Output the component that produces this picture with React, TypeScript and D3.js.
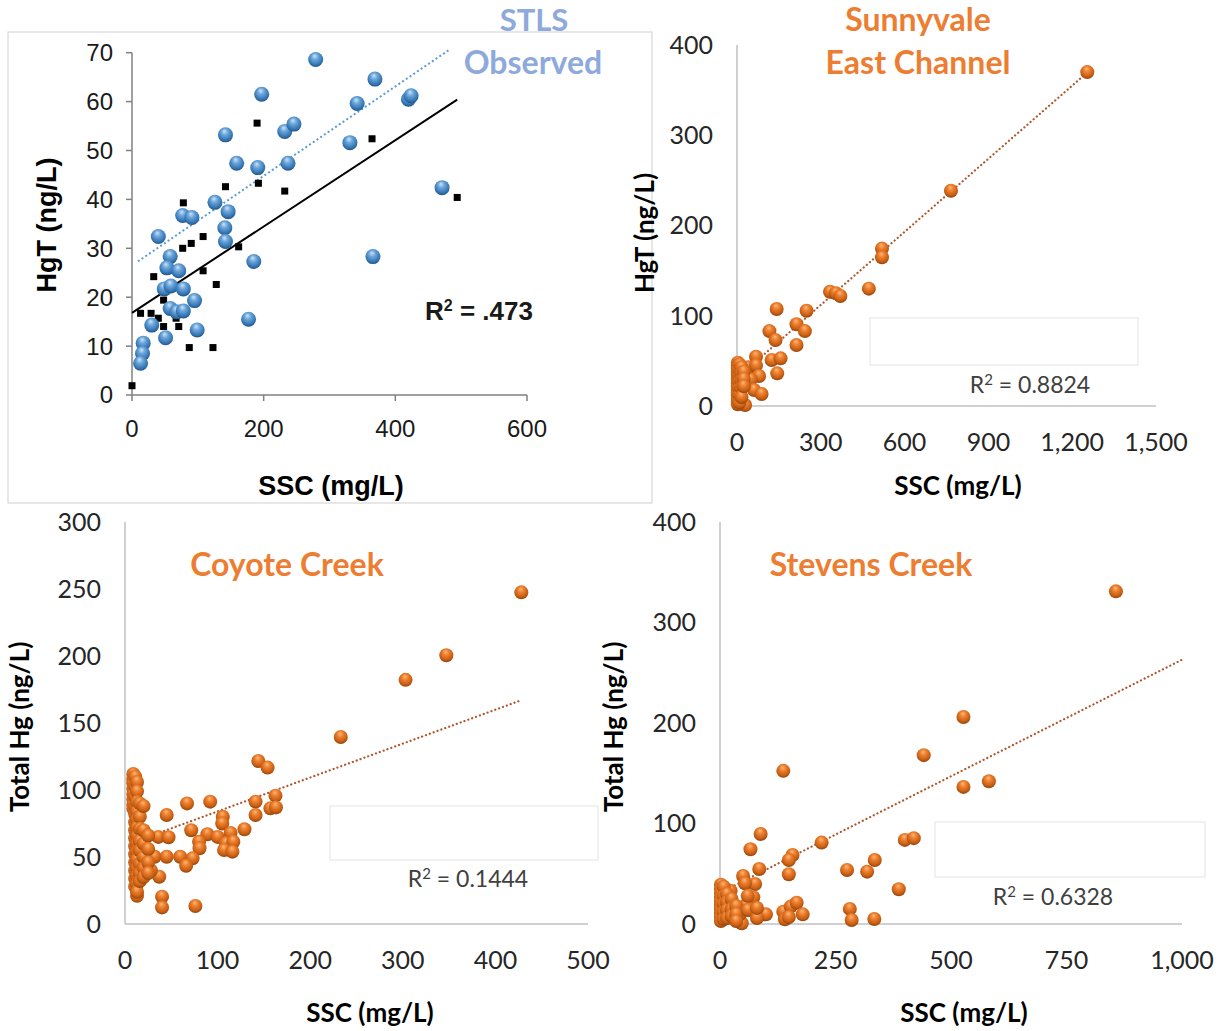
import React from 'react';
import * as d3 from 'd3';

// ---------- Panel 1: STLS observed ----------
const p1TicksX = [0, 200, 400, 600];
const p1TicksY = [0, 10, 20, 30, 40, 50, 60, 70];
// blue spheres [SSC, HgT]
const p1Circles: [number, number][] = [
  [279, 68.6], [369, 64.6], [342, 59.6], [420, 60.5], [424, 61.2], [197, 61.5],
  [142, 53.2], [159, 47.4], [191, 46.5], [232, 53.9], [246, 55.4], [237, 47.4],
  [331, 51.6], [471, 42.4], [126, 39.4], [146, 37.5], [141, 34.2], [142, 31.4],
  [77, 36.7], [91, 36.3], [40, 32.4], [58, 28.3], [53, 26], [71, 25.4], [185, 27.3],
  [366, 28.3], [49, 21.7], [59, 22.3], [78, 21.7], [95, 19.3], [58, 17.7], [68, 17],
  [78, 17.2], [177, 15.5], [30, 14.3], [99, 13.3], [51, 11.7], [17, 10.6], [16, 8.5], [13, 6.5],
];
// black squares [SSC, HgT]
const p1Squares: [number, number][] = [
  [190, 55.6], [364.6, 52.4], [142, 42.6], [192, 43.3], [232, 41.7], [494, 40.4],
  [78, 39.3], [108, 32.4], [90, 31], [77, 30], [162, 30.3], [108, 25.4], [33, 24.2],
  [128, 22.6], [48, 19.4], [13, 16.7], [29, 16.7], [40, 15.7], [67, 15.7], [48, 14],
  [71, 14], [87, 9.7], [123, 9.7], [0, 1.9],
];
const p1Fit = { x0: 0, x1: 494, a: 16.8, b: 0.0883 };
const p1ObsFit = { x0: 9, x1: 482, a: 26.5, b: 0.0915 };

// ---------- Panel 2: Sunnyvale East Channel ----------
const p2TicksX = [0, 300, 600, 900, 1200, 1500];
const p2TicksY = [0, 100, 200, 300, 400];
const p2Points: [number, number][] = [
  [1254, 370], [766, 238.5], [519, 174.4], [519, 164.8], [472, 130], [333, 126.6],
  [354, 125], [370, 121.9], [142, 107.5], [249, 105.6], [116, 83], [213, 90.5],
  [243, 83], [138, 73], [213, 67.6], [68, 54.6], [124, 51], [156, 52.8], [144, 36.2],
  [40, 42.9], [68, 45], [79, 33.2], [49, 29.5], [61, 17.7], [88, 13.3], [29, 1.1],
  [3, 48], [3, 45], [3, 42], [3, 38], [3, 35], [3, 31], [3, 28], [3, 25], [3, 22],
  [3, 18], [3, 15], [3, 12], [3, 8], [3, 5], [3, 2], [9, 46], [9, 40], [9, 33],
  [9, 27], [9, 20], [9, 12], [9, 4], [16, 43], [16, 36], [16, 28], [16, 20], [16, 10],
  [24, 38], [24, 30], [24, 22],
];
const p2Fit = { x0: 0, x1: 1254, a: 31, b: 0.27 };

// ---------- Panel 3: Coyote Creek ----------
const p3TicksX = [0, 100, 200, 300, 400, 500];
const p3TicksY = [0, 50, 100, 150, 200, 250, 300];
const p3Points: [number, number][] = [
  [428, 247.5], [347, 200.6], [303, 182.2], [233, 139.6], [144, 121.6], [154, 116.7],
  [67, 90], [92, 91.3], [45, 81.3], [141, 91.3], [141, 81.3], [162.5, 95.8], [157, 86.3],
  [163, 87], [105.6, 80], [105, 75], [129, 70.7], [71.5, 70], [114, 68], [89, 67],
  [36, 65], [47, 64.7], [100, 65], [80, 61.4], [109, 60.2], [117, 61.4], [80.5, 56.5],
  [107, 55.2], [116, 54], [32, 50.2], [45, 50.2], [59.6, 50.2], [73, 49], [66, 43.5],
  [37, 35.3], [28, 40], [40, 20.4], [40, 12.4], [76, 13.4], [13, 21],
  [9, 112], [9, 108], [9, 105], [9, 101], [9, 97], [9, 93], [9, 89], [9, 86],
  [11, 110], [11, 103], [11, 95], [11, 88], [11, 82], [11, 76], [11, 70], [11, 64],
  [11, 58], [11, 52], [11, 46], [11, 40], [11, 34], [11, 28],
  [13, 106], [13, 99], [13, 91], [13, 84], [13, 78], [13, 72], [13, 66], [13, 60],
  [13, 54], [13, 48], [13, 42], [13, 36], [13, 30], [13, 24],
  [16, 90], [16, 80], [16, 71], [16, 62], [16, 55], [16, 45], [16, 38], [16, 32],
  [20, 88], [20, 70], [20, 60], [20, 50], [20, 42], [20, 35],
  [25, 66], [25, 56], [25, 46], [25, 38],
];
const p3Fit = { x0: 9, x1: 426, a: 58.7, b: 0.253 };

// ---------- Panel 4: Stevens Creek ----------
const p4TicksX = [0, 250, 500, 750, 1000];
const p4TicksY = [0, 100, 200, 300, 400];
const p4Points: [number, number][] = [
  [857, 331], [527, 206], [441, 168], [582, 142], [527, 136.4], [137, 152.4],
  [88, 89.6], [66, 74.4], [220, 81], [157, 68.7], [149, 63.7], [85, 54.8], [50, 47.8],
  [149, 49.5], [76, 39.8], [54, 40.5], [23, 33.2], [275, 53.8], [318.5, 52.1],
  [335, 63.7], [400, 83.7], [419.5, 85.4], [387, 34.6], [281, 15], [285, 4], [334, 5],
  [72, 26.6], [56, 19], [99.5, 9.6], [137, 12.3], [153, 17.3], [166, 21.2], [179, 9.6],
  [140.5, 4.7], [149, 7], [47, 0.7], [43, 10], [68.5, 14],
  [2, 39], [2, 35], [2, 31], [2, 27], [2, 23], [2, 19], [2, 15], [2, 11], [2, 7], [2, 3],
  [8, 37], [8, 28], [8, 20], [8, 12], [8, 5], [15, 30], [15, 22], [15, 14], [15, 6],
  [25, 25], [25, 15], [25, 8], [35, 18], [35, 10], [35, 3], [60, 28], [60, 14],
  [80, 6], [80, 16],
];
const p4Fit = { x0: 0, x1: 1000, a: 31, b: 0.232 };

const ARIAL = "'Liberation Sans', Arial, sans-serif";
const CAL = "Lato, 'Open Sans', sans-serif";
const ORANGE_T = '#ED7D31';
const fmt = d3.format(',');

function Sphere({ cx, cy, r, fill }: { cx: number; cy: number; r: number; fill: string }) {
  return <circle cx={cx} cy={cy} r={r} fill={fill} />;
}

export default function App() {
  // scales
  const x1 = d3.scaleLinear().domain([0, 600]).range([132, 527]);
  const y1 = d3.scaleLinear().domain([0, 70]).range([395, 52.7]);
  const x2 = d3.scaleLinear().domain([0, 1500]).range([737, 1156]);
  const y2 = d3.scaleLinear().domain([0, 400]).range([406, 45]);
  const x3 = d3.scaleLinear().domain([0, 500]).range([125, 588]);
  const y3 = d3.scaleLinear().domain([0, 300]).range([924, 522]);
  const x4 = d3.scaleLinear().domain([0, 1000]).range([720, 1182]);
  const y4 = d3.scaleLinear().domain([0, 400]).range([924, 522]);

  const fitLine = (f: { x0: number; x1: number; a: number; b: number }, xs: any, ys: any) =>
    d3.line<number>().x((v) => xs(v)).y((v) => ys(f.a + f.b * v))([f.x0, f.x1]) || '';

  const orangePanel = (
    key: string,
    xs: any, ys: any, ticksX: number[], ticksY: number[], pts: [number, number][],
    fit: any, yTitle: string, yTitleX: number, yTitleY: number, xTitleX: number, xTitleY: number,
    legend: [number, number, number, number], r2: string, r2x: number, r2y: number,
  ) => {
    const [xa, xb] = xs.range();
    const [yb, ya] = ys.range();
    return (
      <g key={key}>
        <line x1={xa} x2={xb} y1={yb} y2={yb} stroke="#d0d0d0" strokeWidth={2} />
        <line x1={xa} x2={xa} y1={ya} y2={yb} stroke="#d0d0d0" strokeWidth={2} />
        {ticksY.map((t) => (
          <text key={'y' + t} x={xa - 24} y={ys(t)} dy="0.35em" textAnchor="end" fontFamily={CAL}
            fontSize={25} fill="#262626">{fmt(t)}</text>
        ))}
        {ticksX.map((t) => (
          <text key={'x' + t} x={xs(t)} y={yb + 36} dy="0.35em" textAnchor="middle" fontFamily={CAL}
            fontSize={25} fill="#262626">{fmt(t)}</text>
        ))}
        <path d={fitLine(fit, xs, ys)} stroke="#B0552A" strokeWidth={2.2} strokeDasharray="0.1,4" strokeLinecap="round" fill="none" />
        {pts.map((p, i) => (
          <Sphere key={i} cx={xs(p[0])} cy={ys(p[1])} r={7} fill="url(#gOrange)" />
        ))}
        <rect x={legend[0]} y={legend[1]} width={legend[2]} height={legend[3]} fill="#fff" stroke="#e3e3e3" strokeWidth={1} />
        <text x={r2x} y={r2y} dy="0.35em" textAnchor="middle" fontFamily={CAL} fontSize={23} fill="#404040">
          R<tspan dy={-8} fontSize={15}>2</tspan><tspan dy={8}> = {r2}</tspan>
        </text>
        <text transform={`translate(${yTitleX},${yTitleY}) rotate(-90)`} dy="0.35em" textAnchor="middle"
          fontFamily={CAL} fontWeight="bold" fontSize={26} fill="#000">{yTitle}</text>
        <text x={xTitleX} y={xTitleY} dy="0.35em" textAnchor="middle"
          fontFamily={CAL} fontWeight="bold" fontSize={26} fill="#000">SSC (mg/L)</text>
      </g>
    );
  };

  return (
    <svg width={1225} height={1031} style={{ position: 'absolute', left: 0, top: 0, background: '#fff' }}>
      <defs>
        <radialGradient id="gOrange" cx="50%" cy="40%" r="62%" fx="45%" fy="25%">
          <stop offset="0%" stopColor="#FBB877" />
          <stop offset="35%" stopColor="#EE8030" />
          <stop offset="75%" stopColor="#C75E12" />
          <stop offset="100%" stopColor="#8A400C" />
        </radialGradient>
        <radialGradient id="gBlue" cx="50%" cy="40%" r="62%" fx="42%" fy="25%">
          <stop offset="0%" stopColor="#CDE3F6" />
          <stop offset="35%" stopColor="#6BA6DB" />
          <stop offset="80%" stopColor="#3172B0" />
          <stop offset="100%" stopColor="#1F4E79" />
        </radialGradient>
      </defs>

      {/* Panel 1 */}
      <rect x={8} y={32} width={644} height={471} fill="#fff" stroke="#cfcfcf" strokeWidth={1} />
      <g>
        <line x1={x1(0)} x2={x1(600)} y1={y1(0)} y2={y1(0)} stroke="#808080" strokeWidth={1.5} />
        <line x1={x1(0)} x2={x1(0)} y1={y1(0)} y2={y1(70)} stroke="#808080" strokeWidth={1.5} />
        {p1TicksY.map((t) => (
          <g key={'p1y' + t}>
            <line x1={x1(0) - 6} x2={x1(0)} y1={y1(t)} y2={y1(t)} stroke="#808080" strokeWidth={1.5} />
            <text x={x1(0) - 19} y={y1(t)} dy="0.35em" textAnchor="end" fontFamily={ARIAL} fontSize={24} fill="#1a1a1a">{t}</text>
          </g>
        ))}
        {p1TicksX.map((t) => (
          <g key={'p1x' + t}>
            <line x1={x1(t)} x2={x1(t)} y1={y1(0)} y2={y1(0) + 6} stroke="#808080" strokeWidth={1.5} />
            <text x={x1(t)} y={y1(0) + 34} dy="0.35em" textAnchor="middle" fontFamily={ARIAL} fontSize={24} fill="#1a1a1a">{t}</text>
          </g>
        ))}
        <path d={fitLine(p1Fit, x1, y1)} stroke="#000" strokeWidth={2} fill="none" />
        <path d={fitLine(p1ObsFit, x1, y1)} stroke="#5B9BD5" strokeWidth={2} strokeDasharray="2,2.5" fill="none" />
        {p1Squares.map((p, i) => (
          <rect key={i} x={x1(p[0]) - 3.5} y={y1(p[1]) - 3.5} width={7} height={7} fill="#000" />
        ))}
        {p1Circles.map((p, i) => (
          <Sphere key={i} cx={x1(p[0])} cy={y1(p[1])} r={7.5} fill="url(#gBlue)" />
        ))}
        <text x={425} y={311} dy="0.35em" fontFamily={ARIAL} fontWeight="bold" fontSize={26} fill="#1a1a1a">
          R<tspan dy={-9} fontSize={16}>2</tspan><tspan dy={9}> = .473</tspan>
        </text>
        <text transform={`translate(47,225) rotate(-90)`} dy="0.35em" textAnchor="middle"
          fontFamily={ARIAL} fontWeight="bold" fontSize={27} fill="#000">HgT (ng/L)</text>
        <text x={331} y={486} dy="0.35em" textAnchor="middle" fontFamily={ARIAL} fontWeight="bold" fontSize={27} fill="#000">SSC (mg/L)</text>
        <text x={534} y={20} dy="0.35em" textAnchor="middle" fontFamily={CAL} fontWeight="bold" fontSize={31} fill="#8EA9DB">STLS</text>
        <text x={533} y={63} dy="0.35em" textAnchor="middle" fontFamily={CAL} fontWeight="bold" fontSize={32} fill="#8EA9DB">Observed</text>
      </g>

      {/* Panel 2 */}
      {orangePanel('p2', x2, y2, p2TicksX, p2TicksY, p2Points, p2Fit, 'HgT (ng/L)', 645, 233, 958, 486,
        [870, 318, 268, 47], '0.8824', 1030, 385)}
      <text x={918} y={20} dy="0.35em" textAnchor="middle" fontFamily={CAL} fontWeight="bold" fontSize={32} fill={ORANGE_T}>Sunnyvale</text>
      <text x={918} y={63} dy="0.35em" textAnchor="middle" fontFamily={CAL} fontWeight="bold" fontSize={32} fill={ORANGE_T}>East Channel</text>

      {/* Panel 3 */}
      {orangePanel('p3', x3, y3, p3TicksX, p3TicksY, p3Points, p3Fit, 'Total Hg (ng/L)', 20, 727, 370, 1013,
        [330, 806, 268, 54], '0.1444', 468, 879)}
      <text x={287} y={565} dy="0.35em" textAnchor="middle" fontFamily={CAL} fontWeight="bold" fontSize={32} fill={ORANGE_T}>Coyote Creek</text>

      {/* Panel 4 */}
      {orangePanel('p4', x4, y4, p4TicksX, p4TicksY, p4Points, p4Fit, 'Total Hg (ng/L)', 614, 727, 964, 1013,
        [935, 822, 270, 55], '0.6328', 1053, 897)}
      <text x={871} y={565} dy="0.35em" textAnchor="middle" fontFamily={CAL} fontWeight="bold" fontSize={32} fill={ORANGE_T}>Stevens Creek</text>
    </svg>
  );
}
